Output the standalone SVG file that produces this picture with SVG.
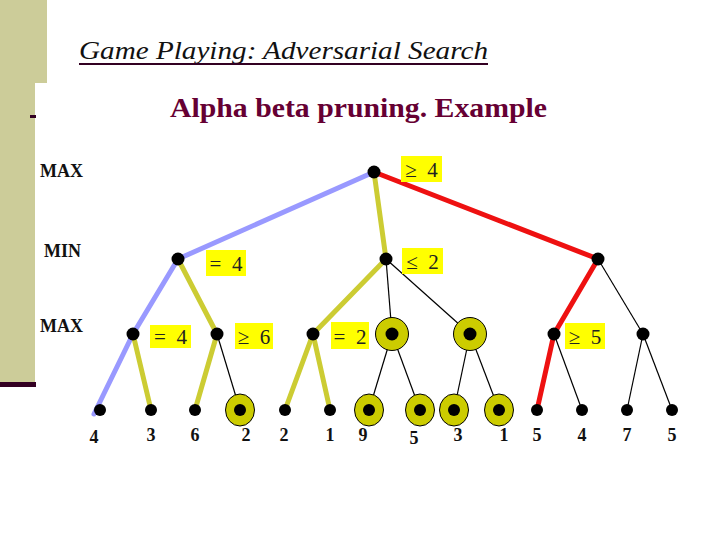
<svg xmlns="http://www.w3.org/2000/svg" width="720" height="540" viewBox="0 0 720 540">
<style>
.bg{fill:#cccc99}
.dot{fill:#000}
.thick{stroke-width:5;fill:none;stroke-linecap:round}
.blue{stroke:#9999ff}
.yel{stroke:#cccc33}
.red{stroke:#ee1111}
.thin{stroke:#000;stroke-width:1.2;fill:none}
.ring{fill:#cccc00;stroke:#000;stroke-width:1}
.box{fill:#ffff00}
.bl{font-family:"Liberation Serif","Times New Roman",serif;font-size:21px;fill:#222;text-anchor:middle;white-space:pre}
.lvl{font-family:"Liberation Serif","Times New Roman",serif;font-size:18px;font-weight:bold;fill:#111}
.leaf{font-family:"Liberation Serif","Times New Roman",serif;font-size:18px;font-weight:bold;fill:#111;text-anchor:middle}
.title{font-family:"Liberation Serif","Times New Roman",serif;font-size:26px;font-style:italic;fill:#111}
.sub{font-family:"Liberation Serif","Times New Roman",serif;font-size:27px;font-weight:bold;fill:#660033}
</style>
<rect width="720" height="540" fill="#fff"/>
<rect class="bg" x="0" y="0" width="47" height="83"/>
<rect class="bg" x="0" y="83" width="35" height="300"/>
<rect x="0" y="382" width="36" height="5" fill="#330022"/>
<rect x="30" y="115" width="6" height="3" fill="#330022"/>
<text class="title" x="79" y="59" textLength="409" lengthAdjust="spacingAndGlyphs">Game Playing: Adversarial Search</text>
<rect x="79" y="63" width="409" height="2" fill="#330022"/>
<text class="sub" x="170" y="117" textLength="377" lengthAdjust="spacingAndGlyphs">Alpha beta pruning. Example</text>
<g id="levels">
<text class="lvl" x="40" y="177">MAX</text>
<text class="lvl" x="44" y="257">MIN</text>
<text class="lvl" x="40" y="332">MAX</text>
</g>
<g id="connectors">
<line class="thick blue" x1="374" y1="172" x2="178" y2="259"/>
<line class="thick yel" x1="374" y1="172" x2="386" y2="259"/>
<line class="thick red" x1="374" y1="172" x2="598" y2="259"/>
<line class="thick blue" x1="178" y1="259" x2="133" y2="334"/>
<line class="thick yel" x1="178" y1="259" x2="217" y2="334"/>
<line class="thick yel" x1="386" y1="259" x2="313" y2="334"/>
<line class="thin" x1="386" y1="259" x2="392" y2="334"/>
<line class="thin" x1="386" y1="259" x2="470" y2="334"/>
<line class="thick red" x1="598" y1="259" x2="554" y2="334"/>
<line class="thin" x1="598" y1="259" x2="643" y2="334"/>
<line class="thick blue" x1="133" y1="334" x2="94" y2="414"/>
<line class="thick yel" x1="133" y1="334" x2="151" y2="410"/>
<line class="thick yel" x1="217" y1="334" x2="195" y2="410"/>
<line class="thin" x1="217" y1="334" x2="240" y2="410"/>
<line class="thick yel" x1="313" y1="334" x2="285" y2="410"/>
<line class="thick yel" x1="313" y1="334" x2="330" y2="410"/>
<line class="thin" x1="392" y1="334" x2="369" y2="410"/>
<line class="thin" x1="392" y1="334" x2="420" y2="410"/>
<line class="thin" x1="470" y1="334" x2="454" y2="410"/>
<line class="thin" x1="470" y1="334" x2="499" y2="410"/>
<line class="thick red" x1="554" y1="334" x2="537" y2="410"/>
<line class="thin" x1="554" y1="334" x2="582" y2="410"/>
<line class="thin" x1="643" y1="334" x2="627" y2="410"/>
<line class="thin" x1="643" y1="334" x2="672" y2="410"/>
</g>
<g id="root"><circle class="dot" cx="374" cy="172" r="6.5"/><rect class="box" x="401" y="156" width="41" height="26"/><text class="bl" x="421.5" y="177" xml:space="preserve">≥  4</text></g>
<g id="min1"><circle class="dot" cx="178" cy="259" r="6.5"/><rect class="box" x="206" y="250" width="40" height="26"/><text class="bl" x="226" y="271" xml:space="preserve">=  4</text></g>
<g id="min2"><circle class="dot" cx="386" cy="259" r="6.5"/><rect class="box" x="402" y="248" width="41" height="26"/><text class="bl" x="422.5" y="269" xml:space="preserve">≤  2</text></g>
<g id="min3"><circle class="dot" cx="598" cy="259" r="6.5"/></g>
<g id="max1"><circle class="dot" cx="133" cy="334" r="6.5"/><rect class="box" x="150" y="325" width="41" height="23"/><text class="bl" x="170.5" y="344" xml:space="preserve">=  4</text></g>
<g id="max2"><circle class="dot" cx="217" cy="334" r="6.5"/><rect class="box" x="235" y="323" width="38" height="26"/><text class="bl" x="254" y="344" xml:space="preserve">≥  6</text></g>
<g id="max3"><circle class="dot" cx="313" cy="334" r="6.5"/><rect class="box" x="331" y="322" width="38" height="27"/><text class="bl" x="350" y="344" xml:space="preserve">=  2</text></g>
<g id="max4"><circle class="ring" cx="392" cy="334" r="16.5"/><circle class="dot" cx="392" cy="334" r="6.5"/></g>
<g id="max5"><circle class="ring" cx="470" cy="334" r="16.5"/><circle class="dot" cx="470" cy="334" r="6.5"/></g>
<g id="max6"><circle class="dot" cx="554" cy="334" r="6.5"/><rect class="box" x="565" y="323" width="40" height="26"/><text class="bl" x="585" y="344" xml:space="preserve">≥  5</text></g>
<g id="max7"><circle class="dot" cx="643" cy="334" r="6.5"/></g>
<g id="leaf1"><circle class="dot" cx="100" cy="410" r="6"/><text class="leaf" x="94" y="443">4</text></g>
<g id="leaf2"><circle class="dot" cx="151" cy="410" r="6"/><text class="leaf" x="151" y="441">3</text></g>
<g id="leaf3"><circle class="dot" cx="195" cy="410" r="6"/><text class="leaf" x="195" y="441">6</text></g>
<g id="leaf4"><ellipse class="ring" cx="240" cy="410" rx="14.5" ry="16"/><circle class="dot" cx="240" cy="410" r="6"/><text class="leaf" x="246" y="441">2</text></g>
<g id="leaf5"><circle class="dot" cx="285" cy="410" r="6"/><text class="leaf" x="284" y="441">2</text></g>
<g id="leaf6"><circle class="dot" cx="330" cy="410" r="6"/><text class="leaf" x="330" y="441">1</text></g>
<g id="leaf7"><ellipse class="ring" cx="369" cy="410" rx="14.5" ry="16"/><circle class="dot" cx="369" cy="410" r="6"/><text class="leaf" x="363" y="441">9</text></g>
<g id="leaf8"><ellipse class="ring" cx="420" cy="410" rx="14.5" ry="16"/><circle class="dot" cx="420" cy="410" r="6"/><text class="leaf" x="414" y="444">5</text></g>
<g id="leaf9"><ellipse class="ring" cx="454" cy="410" rx="14.5" ry="16"/><circle class="dot" cx="454" cy="410" r="6"/><text class="leaf" x="458" y="441">3</text></g>
<g id="leaf10"><ellipse class="ring" cx="499" cy="410" rx="14.5" ry="16"/><circle class="dot" cx="499" cy="410" r="6"/><text class="leaf" x="504" y="441">1</text></g>
<g id="leaf11"><circle class="dot" cx="537" cy="410" r="6"/><text class="leaf" x="537" y="441">5</text></g>
<g id="leaf12"><circle class="dot" cx="582" cy="410" r="6"/><text class="leaf" x="582" y="441">4</text></g>
<g id="leaf13"><circle class="dot" cx="627" cy="410" r="6"/><text class="leaf" x="627" y="441">7</text></g>
<g id="leaf14"><circle class="dot" cx="672" cy="410" r="6"/><text class="leaf" x="672" y="441">5</text></g>
</svg>
